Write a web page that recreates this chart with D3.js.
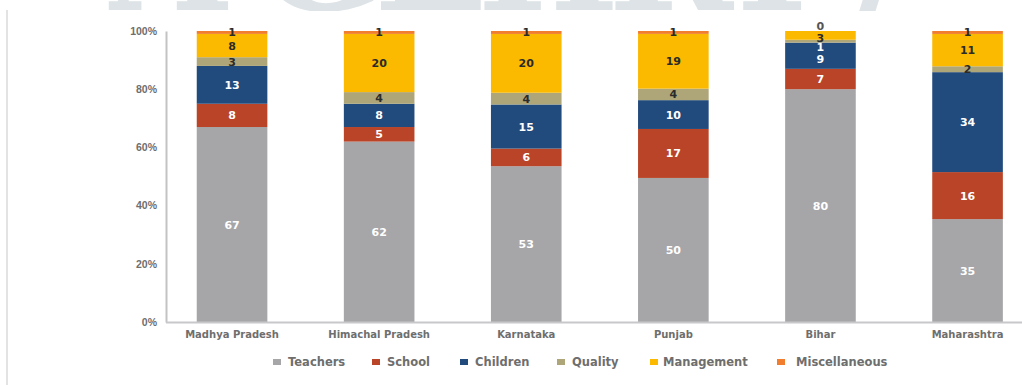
<!DOCTYPE html>
<html>
<head>
<meta charset="utf-8">
<script src="https://cdn.jsdelivr.net/npm/d3@7"></script>
<style>
  body { margin: 0; background: #fff; }
  svg { display: block; font-family: "DejaVu Sans", sans-serif; }
</style>
</head>
<body>
<div id="chart"></div>
<script>
const width = 1022;
const height = 385;

const states = ["Madhya Pradesh", "Himachal Pradesh", "Karnataka", "Punjab", "Bihar", "Maharashtra"];
const seriesNames = ["Teachers", "School", "Children", "Quality", "Management", "Miscellaneous"];
const teachers = [67, 62, 53, 50, 80, 35];
const school = [8, 5, 6, 17, 7, 16];
const children = [13, 8, 15, 10, 9, 34];
const quality = [3, 4, 4, 4, 1, 2];
const management = [8, 20, 20, 19, 3, 11];
const misc = [1, 1, 1, 1, 0, 1];
const yTicks = [0, 0.2, 0.4, 0.6, 0.8, 1];

const colors = ["#a6a6a9", "#b94427", "#214a7d", "#aea678", "#fbb900", "#f07e2e"];
const labelColors = ["#fff", "#fff", "#fff", "#2b2b2b", "#2b2b2b", "#2b2b2b"];

// rows for the stack
const table = states.map((s, i) => ({
    state: s,
    Teachers: teachers[i],
    School: school[i],
    Children: children[i],
    Quality: quality[i],
    Management: management[i],
    Miscellaneous: misc[i]
}));

const stacked = d3.stack()
    .keys(seriesNames)
    .offset(d3.stackOffsetExpand)(table);

const x = d3.scaleBand()
    .domain(states)
    .range([158.5, 158.5 + 6 * 147.1])
    .paddingInner(0.52)
    .paddingOuter(0.26);

const y = d3.scaleLinear()
    .domain([0, 1])
    .range([322, 31]);

const svg = d3.select("#chart")
    .append("svg")
    .attr("width", width)
    .attr("height", height);

// faint watermark, only its lower edge shows at the top
svg.append("clipPath")
    .attr("id", "wm")
    .append("rect")
    .attr("x", 0).attr("y", 0)
    .attr("width", width).attr("height", 11);

svg.append("g")
    .attr("clip-path", "url(#wm)")
    .append("text")
    .attr("x", 110)
    .attr("y", 10)
    .attr("fill", "#dde3e6")
    .style("font-family", "DejaVu Serif, serif")
    .style("font-weight", "bold")
    .style("font-size", "150px")
    .attr("textLength", 800)
    .text("A GEHRY /");

// left frame line
svg.append("line")
    .attr("x1", 7).attr("x2", 7)
    .attr("y1", 10).attr("y2", height)
    .attr("stroke", "#e3e3e3")
    .attr("stroke-width", 2);

// y axis
const yAxis = svg.append("g")
    .attr("transform", "translate(166,0)")
    .call(d3.axisLeft(y).tickValues(yTicks).tickFormat(d3.format(".0%")).tickSize(0).tickPadding(9));
yAxis.select(".domain").attr("stroke", "#c3c3c6").attr("stroke-width", 2);
yAxis.selectAll("text")
    .attr("fill", "#6e6e6e")
    .style("font-size", "10.5px")
    .style("font-weight", "bold");

// bars
const layer = svg.append("g")
    .selectAll("g")
    .data(stacked)
    .join("g")
    .attr("fill", (d, i) => colors[i]);

layer.selectAll("rect")
    .data(d => d)
    .join("rect")
    .attr("x", d => x(d.data.state))
    .attr("y", d => y(d[1]))
    .attr("width", x.bandwidth())
    .attr("height", d => y(d[0]) - y(d[1]));

// x axis line
svg.append("line")
    .attr("x1", 166).attr("x2", width)
    .attr("y1", 322.5).attr("y2", 322.5)
    .attr("stroke", "#c8c8cb")
    .attr("stroke-width", 2);

svg.append("g")
    .selectAll("text")
    .data(states)
    .join("text")
    .attr("x", d => x(d) + x.bandwidth() / 2)
    .attr("y", 338)
    .attr("text-anchor", "middle")
    .attr("fill", "#6e6e6e")
    .style("font-size", "10px")
    .style("font-weight", "bold")
    .text(d => d);

// Bihar labels are crowded at the top, excel pushes them apart
const nudge = {
    "Bihar|Children": 3,
    "Bihar|Quality": 6,
    "Bihar|Management": 3,
    "Bihar|Miscellaneous": -5
};

const labels = svg.append("g")
    .style("font-size", "11px")
    .style("font-weight", "bold")
    .attr("text-anchor", "middle");

stacked.forEach((s, si) => {
    labels.selectAll(null)
        .data(s)
        .join("text")
        .attr("x", d => x(d.data.state) + x.bandwidth() / 2)
        .attr("y", d => (y(d[0]) + y(d[1])) / 2 + 4 + (nudge[d.data.state + "|" + s.key] || 0))
        .attr("fill", d => (d.data.state === "Bihar" && s.key === "Quality") ? "#fff"
            : (d.data.state === "Bihar" && s.key === "Miscellaneous") ? "#555" : labelColors[si])
        .text(d => d.data[s.key]);
});

// legend
const legendX = [273, 372, 460, 557, 650, 777];
const legend = svg.append("g")
    .selectAll("g")
    .data(seriesNames)
    .join("g")
    .attr("transform", (d, i) => `translate(${legendX[i]},362)`);

legend.append("rect")
    .attr("x", 0).attr("y", -3)
    .attr("width", 8).attr("height", 6)
    .attr("fill", (d, i) => colors[i]);

legend.append("text")
    .attr("x", (d, i) => i === 5 ? 19 : i === 4 ? 13 : 15)
    .attr("y", 4)
    .attr("fill", "#6e6e6e")
    .style("font-size", "11.5px")
    .style("font-weight", "bold")
    .text(d => d);
</script>
</body>
</html>
